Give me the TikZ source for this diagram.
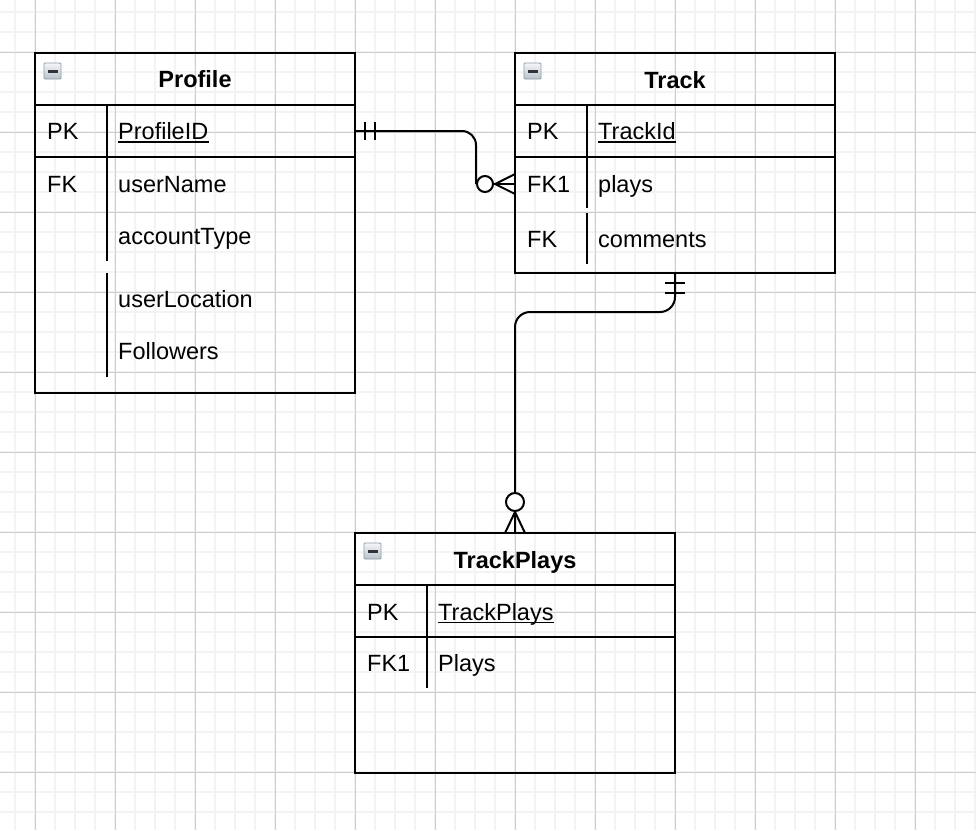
\documentclass[tikz,border=0pt]{standalone}
\usepackage{fontspec}
\setmainfont{Liberation Sans}
\usetikzlibrary{calc}
\definecolor{gridminor}{HTML}{F3F3F3}
\definecolor{gridmajor}{HTML}{CDCDCD}
\definecolor{iconborder}{HTML}{8E9AA8}
\definecolor{icontop}{HTML}{F4F6F8}
\definecolor{iconbot}{HTML}{B9C2CC}
\begin{document}
\begin{tikzpicture}[x=1pt,y=-1pt,
  tablebox/.style={draw, line width=2pt, minimum width=320pt, inner sep=0pt},
  sepline/.style={line width=2pt},
  keytxt/.style={anchor=base west, inner sep=0pt, font=\fontsize{23.5}{26}\selectfont},
  titletxt/.style={anchor=base, inner sep=0pt, font=\fontsize{23.5}{26}\selectfont\bfseries},
  ulline/.style={line width=1.3pt},
  conn/.style={line width=2pt},
  ericon/.pic={
    \shade[top color=icontop, bottom color=iconbot, draw=iconborder, line width=0.8pt, rounded corners=1pt] (0,0) rectangle (17,16);
    \fill[black!80] (3.5,6.5) rectangle (13.5,9.5);
  }
]
\useasboundingbox (0,0) rectangle (976,830);
\fill[white] (0,0) rectangle (976,830);
% grid
\foreach \gx in {15,35,...,975} {\draw[gridminor, line width=1.6pt] (\gx,0) -- (\gx,830);}
\foreach \gy in {12,32,...,830} {\draw[gridminor, line width=1.6pt] (0,\gy) -- (976,\gy);}
\foreach \gx in {35,115,...,975} {\draw[gridmajor, line width=1pt] (\gx,0) -- (\gx,830);}
\foreach \gy in {52,132,...,830} {\draw[gridmajor, line width=1pt] (0,\gy) -- (976,\gy);}

% ---------- Profile ----------
\node[tablebox, minimum height=340pt] (profile) at (195,223) {};
\pic at (44,63) {ericon};
\node[titletxt] (profileTitle) at (195,87) {Profile};
\draw[sepline] (35,105) -- (355,105);
\draw[sepline] (35,157) -- (355,157);
\draw[sepline] (107,105) -- (107,261);
\draw[sepline] (107,273) -- (107,377);
\node[keytxt] (pk1) at (47,139) {PK};
\node[keytxt] (pid) at (118,139) {ProfileID};
\draw[ulline] ([yshift=-3pt]pid.base west) -- ([yshift=-3pt]pid.base east);
\node[keytxt] (fk1) at (47,192) {FK};
\node[keytxt] (pun) at (118,192) {userName};
\node[keytxt] (pat) at (118,244) {accountType};
\node[keytxt] (pul) at (118,307) {userLocation};
\node[keytxt] (pfo) at (118,359) {Followers};

% ---------- Track ----------
\node[tablebox, minimum height=220pt] (track) at (675,163) {};
\pic at (524,63) {ericon};
\node[titletxt] (trackTitle) at (675,88) {Track};
\draw[sepline] (515,105) -- (835,105);
\draw[sepline] (515,157) -- (835,157);
\draw[sepline] (587,105) -- (587,208);
\draw[sepline] (587,213) -- (587,264);
\node[keytxt] (tpk) at (527,139) {PK};
\node[keytxt] (tid) at (598,139) {TrackId};
\draw[ulline] ([yshift=-3pt]tid.base west) -- ([yshift=-3pt]tid.base east);
\node[keytxt] (tfk1) at (527,192) {FK1};
\node[keytxt] (tpl) at (598,192) {plays};
\node[keytxt] (tfk) at (527,247) {FK};
\node[keytxt] (tco) at (598,247) {comments};

% ---------- TrackPlays ----------
\node[tablebox, minimum height=240pt] (tplays) at (515,653) {};
\pic at (364,543) {ericon};
\node[titletxt] (tplaysTitle) at (515,568) {TrackPlays};
\draw[sepline] (355,585) -- (675,585);
\draw[sepline] (355,637) -- (675,637);
\draw[sepline] (427,585) -- (427,688);
\node[keytxt] (ppk) at (367,620) {PK};
\node[keytxt] (ppid) at (438,620) {TrackPlays};
\draw[ulline] ([yshift=-2.5pt]ppid.base west) -- ([yshift=-2.5pt]ppid.base east);
\node[keytxt] (pfk1) at (367,671) {FK1};
\node[keytxt] (ppl) at (438,671) {Plays};

% ---------- connector Profile -> Track ----------
\coordinate (pPK) at (profile.east |- 0,131);
\coordinate (tFK1) at (track.west |- 0,184);
\draw[conn, rounded corners=14pt] (pPK) -| (476,184);
\draw[conn] (365,122) -- (365,140);
\draw[conn] (375,122) -- (375,140);
\draw[conn] (493,184) -- (tFK1);
\draw[conn] (495,184) -- (515,174);
\draw[conn] (495,184) -- (515,194);
\draw[conn, fill=white] (485,184) circle (8pt);

% ---------- connector Track -> TrackPlays ----------
\coordinate (tBot) at (track.south -| 675,0);
\coordinate (tpTop) at (tplays.north);
\draw[conn, rounded corners=15pt] (tBot) |- (595,312) -| (tpTop);
\draw[conn] (665,283) -- (685,283);
\draw[conn] (665,293) -- (685,293);
\draw[conn] (515,512) -- (505,533);
\draw[conn] (515,512) -- (525,533);
\draw[conn, fill=white] (515,502) circle (9pt);
\end{tikzpicture}
\end{document}
